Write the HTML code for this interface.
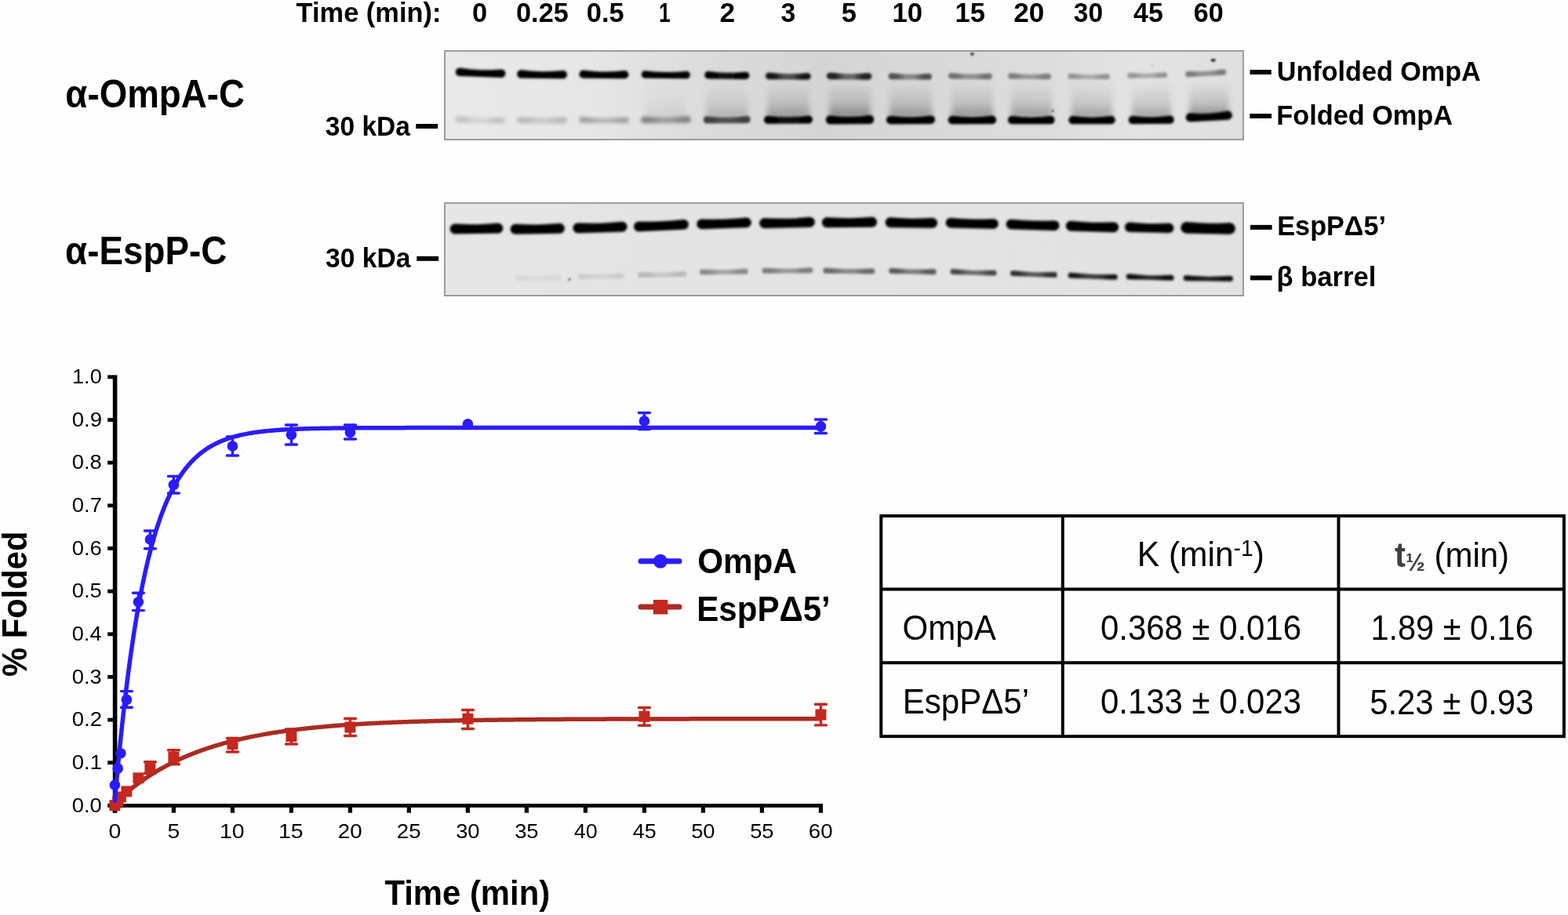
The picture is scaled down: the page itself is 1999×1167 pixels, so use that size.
<!DOCTYPE html>
<html><head><meta charset="utf-8"><title>Folding kinetics</title>
<style>
html,body{margin:0;padding:0;background:#fefefe;}
body{width:1999px;height:1167px;overflow:hidden;}
svg{display:block;}
text{font-family:"Liberation Sans", Arial, Helvetica, sans-serif;}
</style></head><body>
<svg width="1999" height="1167" viewBox="0 0 1999 1167">
<defs>
<filter id="g17" x="-20%" y="-150%" width="140%" height="400%"><feGaussianBlur stdDeviation="1.7"/></filter>
<filter id="g16" x="-20%" y="-150%" width="140%" height="400%"><feGaussianBlur stdDeviation="1.6"/></filter>
<filter id="g22" x="-20%" y="-150%" width="140%" height="400%"><feGaussianBlur stdDeviation="2.2"/></filter>
<filter id="g15" x="-20%" y="-150%" width="140%" height="400%"><feGaussianBlur stdDeviation="1.5"/></filter>
<filter id="g8" x="-200%" y="-200%" width="500%" height="500%"><feGaussianBlur stdDeviation="0.8"/></filter>
<filter id="g40" x="-30%" y="-30%" width="160%" height="160%"><feGaussianBlur stdDeviation="3.5"/></filter>
<linearGradient id="g1bg" x1="567" y1="0" x2="1585" y2="0" gradientUnits="userSpaceOnUse">
<stop offset="0" stop-color="#e8e9e8"/><stop offset="0.19" stop-color="#e5e6e5"/><stop offset="0.33" stop-color="#dadbda"/><stop offset="0.475" stop-color="#d4d5d4"/><stop offset="0.62" stop-color="#d8d9d8"/><stop offset="0.77" stop-color="#dcdddc"/><stop offset="0.87" stop-color="#e2e3e2"/><stop offset="1" stop-color="#dedfde"/>
</linearGradient>
<linearGradient id="g2bg" x1="567" y1="0" x2="1585" y2="0" gradientUnits="userSpaceOnUse"><stop offset="0" stop-color="#e5e6e5"/><stop offset="0.4" stop-color="#e2e3e2"/><stop offset="1" stop-color="#e1e2e1"/></linearGradient>
<linearGradient id="smear" x1="0" y1="0" x2="0" y2="1">
<stop offset="0" stop-color="#000" stop-opacity="0"/>
<stop offset="0.2" stop-color="#000" stop-opacity="0.12"/>
<stop offset="0.6" stop-color="#000" stop-opacity="0.35"/>
<stop offset="1" stop-color="#000" stop-opacity="1"/>
</linearGradient>
</defs>
<rect width="1999" height="1167" fill="#fefefe"/>

<text transform="translate(377.60,27.60) scale(0.9945,1)" font-size="34.6" font-weight="bold" fill="#000" >Time (min):</text>
<text transform="translate(602.06,27.70) scale(0.9939,1)" font-size="34.6" font-weight="bold" fill="#000" >0</text>
<text transform="translate(658.06,27.70) scale(0.9908,1)" font-size="34.6" font-weight="bold" fill="#000" >0.25</text>
<text transform="translate(747.76,27.70) scale(0.9945,1)" font-size="34.6" font-weight="bold" fill="#000" >0.5</text>
<text transform="translate(840.08,27.70) scale(0.7625,1)" font-size="34.6" font-weight="bold" fill="#000" >1</text>
<text transform="translate(917.53,27.70) scale(1.0182,1)" font-size="34.6" font-weight="bold" fill="#000" >2</text>
<text transform="translate(995.47,27.70) scale(0.9739,1)" font-size="34.6" font-weight="bold" fill="#000" >3</text>
<text transform="translate(1072.85,27.70) scale(1.0000,1)" font-size="34.6" font-weight="bold" fill="#000" >5</text>
<text transform="translate(1137.44,27.70) scale(1.0043,1)" font-size="34.6" font-weight="bold" fill="#000" >10</text>
<text transform="translate(1217.45,27.70) scale(1.0014,1)" font-size="34.6" font-weight="bold" fill="#000" >15</text>
<text transform="translate(1292.23,27.70) scale(1.0154,1)" font-size="34.6" font-weight="bold" fill="#000" >20</text>
<text transform="translate(1368.87,27.70) scale(0.9683,1)" font-size="34.6" font-weight="bold" fill="#000" >30</text>
<text transform="translate(1445.01,27.70) scale(0.9838,1)" font-size="34.6" font-weight="bold" fill="#000" >45</text>
<text transform="translate(1521.77,27.70) scale(0.9874,1)" font-size="34.6" font-weight="bold" fill="#000" >60</text>
<text transform="translate(414.87,172.80) scale(0.9685,1)" font-size="34.6" font-weight="bold" fill="#000" >30 kDa</text>
<text transform="translate(415.07,340.80) scale(0.9703,1)" font-size="34.6" font-weight="bold" fill="#000" >30 kDa</text>
<text transform="translate(1627.82,102.90) scale(0.9875,1)" font-size="34.6" font-weight="bold" fill="#000" >Unfolded OmpA</text>
<text transform="translate(1627.27,158.70) scale(0.9915,1)" font-size="34.6" font-weight="bold" fill="#000" >Folded OmpA</text>
<text transform="translate(1628.27,300.00) scale(0.9897,1)" font-size="34.6" font-weight="bold" fill="#000" >EspPΔ5’</text>
<text transform="translate(1627.50,365.00) scale(1.0004,1)" font-size="34.6" font-weight="bold" fill="#000" >β barrel</text>
<text transform="translate(83.34,136.90) scale(0.9309,1)" font-size="49.1" font-weight="bold" fill="#000" >α-OmpA-C</text>
<text transform="translate(83.03,337.10) scale(0.9327,1)" font-size="49.1" font-weight="bold" fill="#000" >α-EspP-C</text>
<text transform="translate(889.14,730.60) scale(0.9512,1)" font-size="44.4" font-weight="bold" fill="#000" >OmpA</text>
<text transform="translate(888.26,792.30) scale(0.9477,1)" font-size="44.4" font-weight="bold" fill="#000" >EspPΔ5’</text>
<text transform="translate(490.43,1154.30) scale(0.9447,1)" font-size="44.3" font-weight="bold" fill="#000" >Time (min)</text>
<text transform="translate(34.3,863.04) rotate(-90) scale(0.9444,1)" font-size="44.2" font-weight="bold" fill="#000">% Folded</text>
<text transform="translate(91.74,1035.60) scale(1.0607,1)" font-size="25.8" font-weight="normal" fill="#000" >0.0</text>
<text transform="translate(91.73,980.94) scale(1.0687,1)" font-size="25.8" font-weight="normal" fill="#000" >0.1</text>
<text transform="translate(91.73,926.28) scale(1.0687,1)" font-size="25.8" font-weight="normal" fill="#000" >0.2</text>
<text transform="translate(91.74,871.62) scale(1.0607,1)" font-size="25.8" font-weight="normal" fill="#000" >0.3</text>
<text transform="translate(91.75,816.96) scale(1.0529,1)" font-size="25.8" font-weight="normal" fill="#000" >0.4</text>
<text transform="translate(91.74,762.30) scale(1.0607,1)" font-size="25.8" font-weight="normal" fill="#000" >0.5</text>
<text transform="translate(91.74,707.64) scale(1.0607,1)" font-size="25.8" font-weight="normal" fill="#000" >0.6</text>
<text transform="translate(91.73,652.98) scale(1.0687,1)" font-size="25.8" font-weight="normal" fill="#000" >0.7</text>
<text transform="translate(91.74,598.32) scale(1.0607,1)" font-size="25.8" font-weight="normal" fill="#000" >0.8</text>
<text transform="translate(91.73,543.66) scale(1.0687,1)" font-size="25.8" font-weight="normal" fill="#000" >0.9</text>
<text transform="translate(91.99,489.00) scale(1.0534,1)" font-size="25.8" font-weight="normal" fill="#000" >1.0</text>
<text transform="translate(138.55,1068.60) scale(1.1020,1)" font-size="25.8" font-weight="normal" fill="#000" >0</text>
<text transform="translate(213.55,1068.60) scale(1.1020,1)" font-size="25.8" font-weight="normal" fill="#000" >5</text>
<text transform="translate(279.99,1068.60) scale(1.1029,1)" font-size="25.8" font-weight="normal" fill="#000" >10</text>
<text transform="translate(354.99,1068.60) scale(1.1029,1)" font-size="25.8" font-weight="normal" fill="#000" >15</text>
<text transform="translate(430.86,1068.60) scale(1.0717,1)" font-size="25.8" font-weight="normal" fill="#000" >20</text>
<text transform="translate(505.86,1068.60) scale(1.0717,1)" font-size="25.8" font-weight="normal" fill="#000" >25</text>
<text transform="translate(581.14,1068.60) scale(1.0617,1)" font-size="25.8" font-weight="normal" fill="#000" >30</text>
<text transform="translate(656.14,1068.60) scale(1.0617,1)" font-size="25.8" font-weight="normal" fill="#000" >35</text>
<text transform="translate(731.68,1068.60) scale(1.0422,1)" font-size="25.8" font-weight="normal" fill="#000" >40</text>
<text transform="translate(806.68,1068.60) scale(1.0422,1)" font-size="25.8" font-weight="normal" fill="#000" >45</text>
<text transform="translate(881.14,1068.60) scale(1.0617,1)" font-size="25.8" font-weight="normal" fill="#000" >50</text>
<text transform="translate(956.14,1068.60) scale(1.0617,1)" font-size="25.8" font-weight="normal" fill="#000" >55</text>
<text transform="translate(1030.86,1068.60) scale(1.0717,1)" font-size="25.8" font-weight="normal" fill="#000" >60</text>
<text transform="translate(1150.59,816.20) scale(0.9559,1)" font-size="44" font-weight="normal" fill="#000" >OmpA</text>
<text transform="translate(1150.65,909.50) scale(0.9569,1)" font-size="44" font-weight="normal" fill="#000" >EspPΔ5’</text>
<text transform="translate(1402.93,816.00) scale(0.9528,1)" font-size="44" font-weight="normal" fill="#000" >0.368 ± 0.016</text>
<text transform="translate(1747.44,816.10) scale(0.9430,1)" font-size="44" font-weight="normal" fill="#000" >1.89 ± 0.16</text>
<text transform="translate(1402.93,910.00) scale(0.9528,1)" font-size="44" font-weight="normal" fill="#000" >0.133 ± 0.023</text>
<text transform="translate(1746.13,910.60) scale(0.9521,1)" font-size="44" font-weight="normal" fill="#000" >5.23 ± 0.93</text>
<text transform="translate(1449.71,722.10) scale(0.9585,1)" font-size="44.4" font-weight="normal" fill="#000" >K (min<tspan font-size="29.4" dy="-13.5">-1</tspan><tspan dy="13.5">)</tspan></text>
<text transform="translate(1778.03,722.50) scale(0.9448,1)" font-size="44.4" font-weight="normal" fill="#000" ><tspan font-weight="bold" fill="#404040">t</tspan><tspan font-size="31.5" font-weight="bold" fill="#404040" dy="5">½</tspan><tspan dy="-5"> (min)</tspan></text>
<rect x="530.3" y="158" width="27.8" height="6" fill="#000"/>
<rect x="531.3" y="326.8" width="27.8" height="6" fill="#000"/>
<rect x="1593.5" y="89" width="27.3" height="6" fill="#000"/>
<rect x="1593.3" y="145" width="27.8" height="6" fill="#000"/>
<rect x="1594" y="286.9" width="27.6" height="6" fill="#000"/>
<rect x="1594" y="351.4" width="27.6" height="6" fill="#000"/>
<rect x="567" y="65" width="1018" height="113" fill="url(#g1bg)"/>
<rect x="823" y="104" width="52" height="46" fill="url(#smear)" fill-opacity="0.08" filter="url(#g40)"/>
<rect x="900" y="104" width="53" height="46" fill="url(#smear)" fill-opacity="0.20" filter="url(#g40)"/>
<rect x="978" y="104" width="54" height="46" fill="url(#smear)" fill-opacity="0.32" filter="url(#g40)"/>
<rect x="1057" y="104" width="53" height="46" fill="url(#smear)" fill-opacity="0.40" filter="url(#g40)"/>
<rect x="1134" y="104" width="54" height="46" fill="url(#smear)" fill-opacity="0.34" filter="url(#g40)"/>
<rect x="1213" y="104" width="53" height="46" fill="url(#smear)" fill-opacity="0.34" filter="url(#g40)"/>
<rect x="1289" y="104" width="52" height="46" fill="url(#smear)" fill-opacity="0.32" filter="url(#g40)"/>
<rect x="1366" y="104" width="52" height="46" fill="url(#smear)" fill-opacity="0.30" filter="url(#g40)"/>
<rect x="1443" y="104" width="50" height="46" fill="url(#smear)" fill-opacity="0.30" filter="url(#g40)"/>
<rect x="1516" y="104" width="51" height="46" fill="url(#smear)" fill-opacity="0.40" filter="url(#g40)"/>
<linearGradient id="bg1" x1="581.8" x2="643.4" y1="0" y2="0" gradientUnits="userSpaceOnUse"><stop offset="0" stop-color="#000000"/><stop offset="0.18" stop-color="#000000"/><stop offset="0.4" stop-color="#000000"/><stop offset="0.6" stop-color="#000000"/><stop offset="0.82" stop-color="#000000"/><stop offset="1" stop-color="#000000"/></linearGradient><path transform="rotate(2.05 612.6 93.4)" d="M585.9,87.5 Q612.6,90.9 639.3,87.5 A5.0,5.0 0 0 1 639.3,97.9 Q612.6,97.9 585.9,97.9 A5.0,5.0 0 0 1 585.9,87.5 Z" fill="url(#bg1)" filter="url(#g17)"/>
<linearGradient id="bg2" x1="660.2" x2="721.9" y1="0" y2="0" gradientUnits="userSpaceOnUse"><stop offset="0" stop-color="#000000"/><stop offset="0.18" stop-color="#000000"/><stop offset="0.4" stop-color="#000000"/><stop offset="0.6" stop-color="#000000"/><stop offset="0.82" stop-color="#000000"/><stop offset="1" stop-color="#000000"/></linearGradient><path transform="rotate(0.74 691.0 95.5)" d="M664.3,89.6 Q691.0,93.0 717.8,89.6 A5.0,5.0 0 0 1 717.8,100.0 Q691.0,100.0 664.3,100.0 A5.0,5.0 0 0 1 664.3,89.6 Z" fill="url(#bg2)" filter="url(#g17)"/>
<linearGradient id="bg3" x1="739.5" x2="800.3" y1="0" y2="0" gradientUnits="userSpaceOnUse"><stop offset="0" stop-color="#000000"/><stop offset="0.18" stop-color="#000000"/><stop offset="0.4" stop-color="#000000"/><stop offset="0.6" stop-color="#000000"/><stop offset="0.82" stop-color="#000000"/><stop offset="1" stop-color="#000000"/></linearGradient><path transform="rotate(0.57 769.9 95.6)" d="M743.5,89.8 Q769.9,93.2 796.3,89.8 A4.9,4.9 0 0 1 796.3,100.0 Q769.9,100.0 743.5,100.0 A4.9,4.9 0 0 1 743.5,89.8 Z" fill="url(#bg3)" filter="url(#g17)"/>
<linearGradient id="bg4" x1="818.7" x2="878.8" y1="0" y2="0" gradientUnits="userSpaceOnUse"><stop offset="0" stop-color="#000000"/><stop offset="0.18" stop-color="#000000"/><stop offset="0.4" stop-color="#000000"/><stop offset="0.6" stop-color="#000000"/><stop offset="0.82" stop-color="#000000"/><stop offset="1" stop-color="#000000"/></linearGradient><path transform="rotate(0.67 848.8 95.9)" d="M822.5,90.4 Q848.8,93.6 875.0,90.4 A4.6,4.6 0 0 1 875.0,100.1 Q848.8,100.1 822.5,100.1 A4.6,4.6 0 0 1 822.5,90.4 Z" fill="url(#bg4)" filter="url(#g17)"/>
<linearGradient id="bg5" x1="899.2" x2="954.4" y1="0" y2="0" gradientUnits="userSpaceOnUse"><stop offset="0" stop-color="#000000"/><stop offset="0.18" stop-color="#000000"/><stop offset="0.4" stop-color="#0b0b0b"/><stop offset="0.6" stop-color="#0b0b0b"/><stop offset="0.82" stop-color="#000000"/><stop offset="1" stop-color="#000000"/></linearGradient><path transform="rotate(0.83 926.8 96.7)" d="M902.9,91.3 Q926.8,94.4 950.7,91.3 A4.5,4.5 0 0 1 950.7,100.7 Q926.8,100.7 902.9,100.7 A4.5,4.5 0 0 1 902.9,91.3 Z" fill="url(#bg5)" filter="url(#g17)"/>
<linearGradient id="bg6" x1="976.8" x2="1032.9" y1="0" y2="0" gradientUnits="userSpaceOnUse"><stop offset="0" stop-color="#121212"/><stop offset="0.18" stop-color="#121212"/><stop offset="0.4" stop-color="#4d4d4d"/><stop offset="0.6" stop-color="#4d4d4d"/><stop offset="0.82" stop-color="#121212"/><stop offset="1" stop-color="#121212"/></linearGradient><path transform="rotate(0.61 1004.9 97.7)" d="M980.3,92.7 Q1004.9,95.6 1029.4,92.7 A4.3,4.3 0 0 1 1029.4,101.5 Q1004.9,101.5 980.3,101.5 A4.3,4.3 0 0 1 980.3,92.7 Z" fill="url(#bg6)" filter="url(#g17)"/>
<linearGradient id="bg7" x1="1054.7" x2="1110.5" y1="0" y2="0" gradientUnits="userSpaceOnUse"><stop offset="0" stop-color="#202020"/><stop offset="0.18" stop-color="#202020"/><stop offset="0.4" stop-color="#636363"/><stop offset="0.6" stop-color="#636363"/><stop offset="0.82" stop-color="#202020"/><stop offset="1" stop-color="#202020"/></linearGradient><path transform="rotate(0.62 1082.6 97.7)" d="M1058.2,92.7 Q1082.6,95.6 1107.0,92.7 A4.3,4.3 0 0 1 1107.0,101.5 Q1082.6,101.5 1058.2,101.5 A4.3,4.3 0 0 1 1058.2,92.7 Z" fill="url(#bg7)" filter="url(#g17)"/>
<linearGradient id="bg8" x1="1133.5" x2="1187.0" y1="0" y2="0" gradientUnits="userSpaceOnUse"><stop offset="0" stop-color="#4d4d4d"/><stop offset="0.18" stop-color="#4d4d4d"/><stop offset="0.4" stop-color="#838383"/><stop offset="0.6" stop-color="#838383"/><stop offset="0.82" stop-color="#4d4d4d"/><stop offset="1" stop-color="#4d4d4d"/></linearGradient><path transform="rotate(0.64 1160.2 98.1)" d="M1136.8,93.4 Q1160.2,96.1 1183.8,93.4 A4.0,4.0 0 0 1 1183.8,101.6 Q1160.2,101.6 1136.8,101.6 A4.0,4.0 0 0 1 1136.8,93.4 Z" fill="url(#bg8)" filter="url(#g17)"/>
<linearGradient id="bg9" x1="1209.8" x2="1264.2" y1="0" y2="0" gradientUnits="userSpaceOnUse"><stop offset="0" stop-color="#717171"/><stop offset="0.18" stop-color="#717171"/><stop offset="0.4" stop-color="#919191"/><stop offset="0.6" stop-color="#919191"/><stop offset="0.82" stop-color="#717171"/><stop offset="1" stop-color="#717171"/></linearGradient><path transform="rotate(0.63 1237.0 97.6)" d="M1212.8,93.3 Q1237.0,95.8 1261.2,93.3 A3.7,3.7 0 0 1 1261.2,100.9 Q1237.0,100.9 1212.8,100.9 A3.7,3.7 0 0 1 1212.8,93.3 Z" fill="url(#bg9)" filter="url(#g17)"/>
<linearGradient id="bg10" x1="1285.9" x2="1339.2" y1="0" y2="0" gradientUnits="userSpaceOnUse"><stop offset="0" stop-color="#7c7c7c"/><stop offset="0.18" stop-color="#7c7c7c"/><stop offset="0.4" stop-color="#9a9a9a"/><stop offset="0.6" stop-color="#9a9a9a"/><stop offset="0.82" stop-color="#7c7c7c"/><stop offset="1" stop-color="#7c7c7c"/></linearGradient><path transform="rotate(0.86 1312.6 97.7)" d="M1288.9,93.4 Q1312.6,95.9 1336.2,93.4 A3.7,3.7 0 0 1 1336.2,101.0 Q1312.6,101.0 1288.9,101.0 A3.7,3.7 0 0 1 1288.9,93.4 Z" fill="url(#bg10)" filter="url(#g17)"/>
<linearGradient id="bg11" x1="1362.0" x2="1414.3" y1="0" y2="0" gradientUnits="userSpaceOnUse"><stop offset="0" stop-color="#939393"/><stop offset="0.18" stop-color="#939393"/><stop offset="0.4" stop-color="#aaaaaa"/><stop offset="0.6" stop-color="#aaaaaa"/><stop offset="0.82" stop-color="#939393"/><stop offset="1" stop-color="#939393"/></linearGradient><path transform="rotate(0.66 1388.2 98.0)" d="M1364.8,94.0 Q1388.2,96.3 1411.5,94.0 A3.4,3.4 0 0 1 1411.5,101.0 Q1388.2,101.0 1364.8,101.0 A3.4,3.4 0 0 1 1364.8,94.0 Z" fill="url(#bg11)" filter="url(#g17)"/>
<linearGradient id="bg12" x1="1438.0" x2="1487.4" y1="0" y2="0" gradientUnits="userSpaceOnUse"><stop offset="0" stop-color="#939393"/><stop offset="0.18" stop-color="#939393"/><stop offset="0.4" stop-color="#aaaaaa"/><stop offset="0.6" stop-color="#aaaaaa"/><stop offset="0.82" stop-color="#939393"/><stop offset="1" stop-color="#939393"/></linearGradient><path transform="rotate(-0.93 1462.7 96.5)" d="M1440.8,92.5 Q1462.7,94.8 1484.7,92.5 A3.4,3.4 0 0 1 1484.7,99.5 Q1462.7,99.5 1440.8,99.5 A3.4,3.4 0 0 1 1440.8,92.5 Z" fill="url(#bg12)" filter="url(#g17)"/>
<linearGradient id="bg13" x1="1512.1" x2="1562.5" y1="0" y2="0" gradientUnits="userSpaceOnUse"><stop offset="0" stop-color="#7c7c7c"/><stop offset="0.18" stop-color="#7c7c7c"/><stop offset="0.4" stop-color="#939393"/><stop offset="0.6" stop-color="#939393"/><stop offset="0.82" stop-color="#7c7c7c"/><stop offset="1" stop-color="#7c7c7c"/></linearGradient><path transform="rotate(-3.18 1537.3 93.7)" d="M1515.1,89.4 Q1537.3,91.9 1559.5,89.4 A3.7,3.7 0 0 1 1559.5,97.0 Q1537.3,97.0 1515.1,97.0 A3.7,3.7 0 0 1 1515.1,89.4 Z" fill="url(#bg13)" filter="url(#g17)"/>
<linearGradient id="bg14" x1="581.0" x2="643.0" y1="0" y2="0" gradientUnits="userSpaceOnUse"><stop offset="0" stop-color="#c2c2c2"/><stop offset="0.18" stop-color="#c2c2c2"/><stop offset="0.4" stop-color="#d2d2d2"/><stop offset="0.6" stop-color="#d2d2d2"/><stop offset="0.82" stop-color="#c2c2c2"/><stop offset="1" stop-color="#c2c2c2"/></linearGradient><path transform="rotate(1.39 612.0 153.3)" d="M584.2,148.6 Q612.0,151.4 639.8,148.6 A4.0,4.0 0 0 1 639.8,156.9 Q612.0,156.9 584.2,156.9 A4.0,4.0 0 0 1 584.2,148.6 Z" fill="url(#bg14)" filter="url(#g22)"/>
<linearGradient id="bg15" x1="660.0" x2="722.0" y1="0" y2="0" gradientUnits="userSpaceOnUse"><stop offset="0" stop-color="#b9b9b9"/><stop offset="0.18" stop-color="#b9b9b9"/><stop offset="0.4" stop-color="#c7c7c7"/><stop offset="0.6" stop-color="#c7c7c7"/><stop offset="0.82" stop-color="#b9b9b9"/><stop offset="1" stop-color="#b9b9b9"/></linearGradient><path transform="rotate(0.46 691.0 153.8)" d="M663.2,149.1 Q691.0,151.9 718.8,149.1 A4.0,4.0 0 0 1 718.8,157.4 Q691.0,157.4 663.2,157.4 A4.0,4.0 0 0 1 663.2,149.1 Z" fill="url(#bg15)" filter="url(#g22)"/>
<linearGradient id="bg16" x1="739.0" x2="801.0" y1="0" y2="0" gradientUnits="userSpaceOnUse"><stop offset="0" stop-color="#a3a3a3"/><stop offset="0.18" stop-color="#a3a3a3"/><stop offset="0.4" stop-color="#b5b5b5"/><stop offset="0.6" stop-color="#b5b5b5"/><stop offset="0.82" stop-color="#a3a3a3"/><stop offset="1" stop-color="#a3a3a3"/></linearGradient><path transform="rotate(0.37 770.0 153.6)" d="M742.2,148.9 Q770.0,151.6 797.8,148.9 A4.0,4.0 0 0 1 797.8,157.1 Q770.0,157.1 742.2,157.1 A4.0,4.0 0 0 1 742.2,148.9 Z" fill="url(#bg16)" filter="url(#g22)"/>
<linearGradient id="bg17" x1="818.0" x2="880.0" y1="0" y2="0" gradientUnits="userSpaceOnUse"><stop offset="0" stop-color="#838383"/><stop offset="0.18" stop-color="#838383"/><stop offset="0.4" stop-color="#9a9a9a"/><stop offset="0.6" stop-color="#9a9a9a"/><stop offset="0.82" stop-color="#838383"/><stop offset="1" stop-color="#838383"/></linearGradient><path transform="rotate(-0.55 849.0 153.3)" d="M821.5,148.3 Q849.0,151.2 876.5,148.3 A4.3,4.3 0 0 1 876.5,157.1 Q849.0,157.1 821.5,157.1 A4.3,4.3 0 0 1 821.5,148.3 Z" fill="url(#bg17)" filter="url(#g22)"/>
<linearGradient id="bg18" x1="897.6" x2="955.8" y1="0" y2="0" gradientUnits="userSpaceOnUse"><stop offset="0" stop-color="#3f3f3f"/><stop offset="0.18" stop-color="#3f3f3f"/><stop offset="0.4" stop-color="#515151"/><stop offset="0.6" stop-color="#515151"/><stop offset="0.82" stop-color="#3f3f3f"/><stop offset="1" stop-color="#3f3f3f"/></linearGradient><path transform="rotate(-0.39 926.7 153.3)" d="M901.4,147.9 Q926.7,151.0 952.0,147.9 A4.6,4.6 0 0 1 952.0,157.3 Q926.7,157.3 901.4,157.3 A4.6,4.6 0 0 1 901.4,147.9 Z" fill="url(#bg18)" filter="url(#g17)"/>
<linearGradient id="bg19" x1="975.0" x2="1035.0" y1="0" y2="0" gradientUnits="userSpaceOnUse"><stop offset="0" stop-color="#000000"/><stop offset="0.18" stop-color="#000000"/><stop offset="0.4" stop-color="#101010"/><stop offset="0.6" stop-color="#101010"/><stop offset="0.82" stop-color="#000000"/><stop offset="1" stop-color="#000000"/></linearGradient><path transform="rotate(-0.38 1005.0 153.3)" d="M979.1,147.4 Q1005.0,150.8 1030.9,147.4 A5.0,5.0 0 0 1 1030.9,157.8 Q1005.0,157.8 979.1,157.8 A5.0,5.0 0 0 1 979.1,147.4 Z" fill="url(#bg19)" filter="url(#g17)"/>
<linearGradient id="bg20" x1="1054.0" x2="1113.0" y1="0" y2="0" gradientUnits="userSpaceOnUse"><stop offset="0" stop-color="#000000"/><stop offset="0.18" stop-color="#000000"/><stop offset="0.4" stop-color="#000000"/><stop offset="0.6" stop-color="#000000"/><stop offset="0.82" stop-color="#000000"/><stop offset="1" stop-color="#000000"/></linearGradient><path transform="rotate(-0.39 1083.5 153.4)" d="M1058.5,146.9 Q1083.5,150.7 1108.5,146.9 A5.5,5.5 0 0 1 1108.5,158.3 Q1083.5,158.3 1058.5,158.3 A5.5,5.5 0 0 1 1058.5,146.9 Z" fill="url(#bg20)" filter="url(#g17)"/>
<linearGradient id="bg21" x1="1131.0" x2="1191.0" y1="0" y2="0" gradientUnits="userSpaceOnUse"><stop offset="0" stop-color="#000000"/><stop offset="0.18" stop-color="#000000"/><stop offset="0.4" stop-color="#000000"/><stop offset="0.6" stop-color="#000000"/><stop offset="0.82" stop-color="#000000"/><stop offset="1" stop-color="#000000"/></linearGradient><path transform="rotate(-0.38 1161.0 153.6)" d="M1135.3,147.4 Q1161.0,151.0 1186.7,147.4 A5.2,5.2 0 0 1 1186.7,158.2 Q1161.0,158.2 1135.3,158.2 A5.2,5.2 0 0 1 1135.3,147.4 Z" fill="url(#bg21)" filter="url(#g17)"/>
<linearGradient id="bg22" x1="1209.8" x2="1269.1" y1="0" y2="0" gradientUnits="userSpaceOnUse"><stop offset="0" stop-color="#000000"/><stop offset="0.18" stop-color="#000000"/><stop offset="0.4" stop-color="#000000"/><stop offset="0.6" stop-color="#000000"/><stop offset="0.82" stop-color="#000000"/><stop offset="1" stop-color="#000000"/></linearGradient><path transform="rotate(-0.19 1239.4 153.6)" d="M1214.0,147.6 Q1239.4,151.1 1264.9,147.6 A5.1,5.1 0 0 1 1264.9,158.2 Q1239.4,158.2 1214.0,158.2 A5.1,5.1 0 0 1 1214.0,147.6 Z" fill="url(#bg22)" filter="url(#g17)"/>
<linearGradient id="bg23" x1="1286.0" x2="1343.6" y1="0" y2="0" gradientUnits="userSpaceOnUse"><stop offset="0" stop-color="#000000"/><stop offset="0.18" stop-color="#000000"/><stop offset="0.4" stop-color="#000000"/><stop offset="0.6" stop-color="#000000"/><stop offset="0.82" stop-color="#000000"/><stop offset="1" stop-color="#000000"/></linearGradient><path transform="rotate(0.00 1314.8 153.7)" d="M1290.2,147.7 Q1314.8,151.2 1339.4,147.7 A5.1,5.1 0 0 1 1339.4,158.3 Q1314.8,158.3 1290.2,158.3 A5.1,5.1 0 0 1 1290.2,147.7 Z" fill="url(#bg23)" filter="url(#g17)"/>
<linearGradient id="bg24" x1="1363.5" x2="1420.7" y1="0" y2="0" gradientUnits="userSpaceOnUse"><stop offset="0" stop-color="#000000"/><stop offset="0.18" stop-color="#000000"/><stop offset="0.4" stop-color="#000000"/><stop offset="0.6" stop-color="#000000"/><stop offset="0.82" stop-color="#000000"/><stop offset="1" stop-color="#000000"/></linearGradient><path transform="rotate(0.00 1392.1 153.7)" d="M1367.6,147.8 Q1392.1,151.2 1416.6,147.8 A5.0,5.0 0 0 1 1416.6,158.2 Q1392.1,158.2 1367.6,158.2 A5.0,5.0 0 0 1 1367.6,147.8 Z" fill="url(#bg24)" filter="url(#g17)"/>
<linearGradient id="bg25" x1="1439.8" x2="1495.7" y1="0" y2="0" gradientUnits="userSpaceOnUse"><stop offset="0" stop-color="#000000"/><stop offset="0.18" stop-color="#000000"/><stop offset="0.4" stop-color="#000000"/><stop offset="0.6" stop-color="#000000"/><stop offset="0.82" stop-color="#000000"/><stop offset="1" stop-color="#000000"/></linearGradient><path transform="rotate(-0.41 1467.8 153.5)" d="M1443.9,147.6 Q1467.8,151.0 1491.6,147.6 A5.0,5.0 0 0 1 1491.6,158.0 Q1467.8,158.0 1443.9,158.0 A5.0,5.0 0 0 1 1443.9,147.6 Z" fill="url(#bg25)" filter="url(#g17)"/>
<linearGradient id="bg26" x1="1513.0" x2="1569.7" y1="0" y2="0" gradientUnits="userSpaceOnUse"><stop offset="0" stop-color="#000000"/><stop offset="0.18" stop-color="#000000"/><stop offset="0.4" stop-color="#000000"/><stop offset="0.6" stop-color="#000000"/><stop offset="0.82" stop-color="#000000"/><stop offset="1" stop-color="#000000"/></linearGradient><path transform="rotate(-3.23 1541.3 149.2)" d="M1517.4,142.8 Q1541.3,146.5 1565.3,142.8 A5.4,5.4 0 0 1 1565.3,154.0 Q1541.3,154.0 1517.4,154.0 A5.4,5.4 0 0 1 1517.4,142.8 Z" fill="url(#bg26)" filter="url(#g17)"/>
<ellipse cx="1239.5" cy="68.9" rx="2.2" ry="1.6" fill="#171717" filter="url(#g8)"/>
<ellipse cx="1546.7" cy="76.8" rx="3" ry="1.8" fill="#171717" filter="url(#g8)"/>
<ellipse cx="1342.2" cy="141.4" rx="1.3" ry="1.5" fill="#444444" filter="url(#g8)"/>
<ellipse cx="1468.7" cy="82.7" rx="1.2" ry="1" fill="#aaaaaa" filter="url(#g8)"/>
<rect x="567" y="65" width="1018" height="113" fill="none" stroke="#9c9c9c" stroke-width="2"/>
<rect x="567" y="259" width="1018" height="118" fill="url(#g2bg)"/>
<ellipse cx="726" cy="356.5" rx="2.2" ry="1.2" fill="#666666" transform="rotate(-25 726 356.5)" filter="url(#g8)"/>
<linearGradient id="bg27" x1="574.2" x2="640.8" y1="0" y2="0" gradientUnits="userSpaceOnUse"><stop offset="0" stop-color="#000000"/><stop offset="0.18" stop-color="#000000"/><stop offset="0.4" stop-color="#000000"/><stop offset="0.6" stop-color="#000000"/><stop offset="0.82" stop-color="#000000"/><stop offset="1" stop-color="#000000"/></linearGradient><path transform="rotate(-0.86 607.5 292.0)" d="M580.0,285.1 Q607.5,287.2 635.0,285.1 A6.3,6.3 0 0 1 635.0,297.9 Q607.5,297.9 580.0,297.9 A6.3,6.3 0 0 1 580.0,285.1 Z" fill="url(#bg27)" filter="url(#g16)"/>
<linearGradient id="bg28" x1="651.2" x2="719.2" y1="0" y2="0" gradientUnits="userSpaceOnUse"><stop offset="0" stop-color="#000000"/><stop offset="0.18" stop-color="#000000"/><stop offset="0.4" stop-color="#000000"/><stop offset="0.6" stop-color="#000000"/><stop offset="0.82" stop-color="#000000"/><stop offset="1" stop-color="#000000"/></linearGradient><path transform="rotate(-0.93 685.2 292.2)" d="M657.0,285.3 Q685.2,287.5 713.5,285.3 A6.3,6.3 0 0 1 713.5,298.2 Q685.2,298.2 657.0,298.2 A6.3,6.3 0 0 1 657.0,285.3 Z" fill="url(#bg28)" filter="url(#g16)"/>
<linearGradient id="bg29" x1="731.0" x2="799.0" y1="0" y2="0" gradientUnits="userSpaceOnUse"><stop offset="0" stop-color="#000000"/><stop offset="0.18" stop-color="#000000"/><stop offset="0.4" stop-color="#000000"/><stop offset="0.6" stop-color="#000000"/><stop offset="0.82" stop-color="#000000"/><stop offset="1" stop-color="#000000"/></linearGradient><path transform="rotate(-1.68 765.0 290.5)" d="M736.8,283.6 Q765.0,285.7 793.2,283.6 A6.3,6.3 0 0 1 793.2,296.4 Q765.0,296.4 736.8,296.4 A6.3,6.3 0 0 1 736.8,283.6 Z" fill="url(#bg29)" filter="url(#g16)"/>
<linearGradient id="bg30" x1="808.6" x2="877.4" y1="0" y2="0" gradientUnits="userSpaceOnUse"><stop offset="0" stop-color="#000000"/><stop offset="0.18" stop-color="#000000"/><stop offset="0.4" stop-color="#000000"/><stop offset="0.6" stop-color="#000000"/><stop offset="0.82" stop-color="#000000"/><stop offset="1" stop-color="#000000"/></linearGradient><path transform="rotate(-2.66 843.0 288.1)" d="M814.4,281.2 Q843.0,283.3 871.6,281.2 A6.3,6.3 0 0 1 871.6,294.0 Q843.0,294.0 814.4,294.0 A6.3,6.3 0 0 1 814.4,281.2 Z" fill="url(#bg30)" filter="url(#g16)"/>
<linearGradient id="bg31" x1="888.9" x2="957.2" y1="0" y2="0" gradientUnits="userSpaceOnUse"><stop offset="0" stop-color="#000000"/><stop offset="0.18" stop-color="#000000"/><stop offset="0.4" stop-color="#000000"/><stop offset="0.6" stop-color="#000000"/><stop offset="0.82" stop-color="#000000"/><stop offset="1" stop-color="#000000"/></linearGradient><path transform="rotate(-2.01 923.0 285.3)" d="M894.6,278.4 Q923.0,280.5 951.5,278.4 A6.3,6.3 0 0 1 951.5,291.2 Q923.0,291.2 894.6,291.2 A6.3,6.3 0 0 1 894.6,278.4 Z" fill="url(#bg31)" filter="url(#g16)"/>
<linearGradient id="bg32" x1="968.7" x2="1038.3" y1="0" y2="0" gradientUnits="userSpaceOnUse"><stop offset="0" stop-color="#000000"/><stop offset="0.18" stop-color="#000000"/><stop offset="0.4" stop-color="#000000"/><stop offset="0.6" stop-color="#000000"/><stop offset="0.82" stop-color="#000000"/><stop offset="1" stop-color="#000000"/></linearGradient><path transform="rotate(-1.32 1003.5 284.5)" d="M974.5,277.6 Q1003.5,279.7 1032.5,277.6 A6.3,6.3 0 0 1 1032.5,290.4 Q1003.5,290.4 974.5,290.4 A6.3,6.3 0 0 1 974.5,277.6 Z" fill="url(#bg32)" filter="url(#g16)"/>
<linearGradient id="bg33" x1="1048.5" x2="1117.4" y1="0" y2="0" gradientUnits="userSpaceOnUse"><stop offset="0" stop-color="#000000"/><stop offset="0.18" stop-color="#000000"/><stop offset="0.4" stop-color="#000000"/><stop offset="0.6" stop-color="#000000"/><stop offset="0.82" stop-color="#000000"/><stop offset="1" stop-color="#000000"/></linearGradient><path transform="rotate(-0.50 1083.0 284.0)" d="M1054.2,277.1 Q1083.0,279.2 1111.7,277.1 A6.3,6.3 0 0 1 1111.7,289.9 Q1083.0,289.9 1054.2,289.9 A6.3,6.3 0 0 1 1054.2,277.1 Z" fill="url(#bg33)" filter="url(#g16)"/>
<linearGradient id="bg34" x1="1129.2" x2="1194.4" y1="0" y2="0" gradientUnits="userSpaceOnUse"><stop offset="0" stop-color="#000000"/><stop offset="0.18" stop-color="#000000"/><stop offset="0.4" stop-color="#000000"/><stop offset="0.6" stop-color="#000000"/><stop offset="0.82" stop-color="#000000"/><stop offset="1" stop-color="#000000"/></linearGradient><path transform="rotate(0.70 1161.8 284.5)" d="M1135.0,277.6 Q1161.8,279.7 1188.7,277.6 A6.3,6.3 0 0 1 1188.7,290.4 Q1161.8,290.4 1135.0,290.4 A6.3,6.3 0 0 1 1135.0,277.6 Z" fill="url(#bg34)" filter="url(#g16)"/>
<linearGradient id="bg35" x1="1206.3" x2="1272.3" y1="0" y2="0" gradientUnits="userSpaceOnUse"><stop offset="0" stop-color="#000000"/><stop offset="0.18" stop-color="#000000"/><stop offset="0.4" stop-color="#000000"/><stop offset="0.6" stop-color="#000000"/><stop offset="0.82" stop-color="#000000"/><stop offset="1" stop-color="#000000"/></linearGradient><path transform="rotate(1.39 1239.3 285.3)" d="M1212.0,278.4 Q1239.3,280.5 1266.5,278.4 A6.3,6.3 0 0 1 1266.5,291.2 Q1239.3,291.2 1212.0,291.2 A6.3,6.3 0 0 1 1212.0,278.4 Z" fill="url(#bg35)" filter="url(#g16)"/>
<linearGradient id="bg36" x1="1283.3" x2="1349.9" y1="0" y2="0" gradientUnits="userSpaceOnUse"><stop offset="0" stop-color="#000000"/><stop offset="0.18" stop-color="#000000"/><stop offset="0.4" stop-color="#000000"/><stop offset="0.6" stop-color="#000000"/><stop offset="0.82" stop-color="#000000"/><stop offset="1" stop-color="#000000"/></linearGradient><path transform="rotate(1.72 1316.6 287.3)" d="M1289.0,280.4 Q1316.6,282.5 1344.2,280.4 A6.3,6.3 0 0 1 1344.2,293.2 Q1316.6,293.2 1289.0,293.2 A6.3,6.3 0 0 1 1289.0,280.4 Z" fill="url(#bg36)" filter="url(#g16)"/>
<linearGradient id="bg37" x1="1359.5" x2="1425.5" y1="0" y2="0" gradientUnits="userSpaceOnUse"><stop offset="0" stop-color="#000000"/><stop offset="0.18" stop-color="#000000"/><stop offset="0.4" stop-color="#000000"/><stop offset="0.6" stop-color="#000000"/><stop offset="0.82" stop-color="#000000"/><stop offset="1" stop-color="#000000"/></linearGradient><path transform="rotate(1.74 1392.5 289.5)" d="M1365.2,282.6 Q1392.5,284.7 1419.8,282.6 A6.3,6.3 0 0 1 1419.8,295.4 Q1392.5,295.4 1365.2,295.4 A6.3,6.3 0 0 1 1365.2,282.6 Z" fill="url(#bg37)" filter="url(#g16)"/>
<linearGradient id="bg38" x1="1434.6" x2="1495.7" y1="0" y2="0" gradientUnits="userSpaceOnUse"><stop offset="0" stop-color="#000000"/><stop offset="0.18" stop-color="#000000"/><stop offset="0.4" stop-color="#000000"/><stop offset="0.6" stop-color="#000000"/><stop offset="0.82" stop-color="#000000"/><stop offset="1" stop-color="#000000"/></linearGradient><path transform="rotate(1.31 1465.2 290.7)" d="M1440.1,284.1 Q1465.2,286.2 1490.2,284.1 A6.0,6.0 0 0 1 1490.2,296.5 Q1465.2,296.5 1440.1,296.5 A6.0,6.0 0 0 1 1440.1,284.1 Z" fill="url(#bg38)" filter="url(#g16)"/>
<linearGradient id="bg39" x1="1506.1" x2="1574.1" y1="0" y2="0" gradientUnits="userSpaceOnUse"><stop offset="0" stop-color="#000000"/><stop offset="0.18" stop-color="#000000"/><stop offset="0.4" stop-color="#000000"/><stop offset="0.6" stop-color="#000000"/><stop offset="0.82" stop-color="#000000"/><stop offset="1" stop-color="#000000"/></linearGradient><path transform="rotate(1.18 1540.1 291.4)" d="M1512.6,283.6 Q1540.1,286.1 1567.6,283.6 A7.2,7.2 0 0 1 1567.6,298.2 Q1540.1,298.2 1512.6,298.2 A7.2,7.2 0 0 1 1512.6,283.6 Z" fill="url(#bg39)" filter="url(#g16)"/>
<linearGradient id="bg40" x1="657.3" x2="715.0" y1="0" y2="0" gradientUnits="userSpaceOnUse"><stop offset="0" stop-color="#d7d7d7"/><stop offset="0.18" stop-color="#d7d7d7"/><stop offset="0.4" stop-color="#dadada"/><stop offset="0.6" stop-color="#dadada"/><stop offset="0.82" stop-color="#d7d7d7"/><stop offset="1" stop-color="#d7d7d7"/></linearGradient><path transform="rotate(-0.40 686.1 354.7)" d="M660.0,350.7 Q686.1,353.0 712.2,350.7 A3.4,3.4 0 0 1 712.2,357.7 Q686.1,357.7 660.0,357.7 A3.4,3.4 0 0 1 660.0,350.7 Z" fill="url(#bg40)" filter="url(#g15)"/>
<linearGradient id="bg41" x1="737.0" x2="794.8" y1="0" y2="0" gradientUnits="userSpaceOnUse"><stop offset="0" stop-color="#cbcbcb"/><stop offset="0.18" stop-color="#cbcbcb"/><stop offset="0.4" stop-color="#d2d2d2"/><stop offset="0.6" stop-color="#d2d2d2"/><stop offset="0.82" stop-color="#cbcbcb"/><stop offset="1" stop-color="#cbcbcb"/></linearGradient><path transform="rotate(-0.79 765.9 352.7)" d="M739.8,348.7 Q765.9,351.0 792.0,348.7 A3.4,3.4 0 0 1 792.0,355.7 Q765.9,355.7 739.8,355.7 A3.4,3.4 0 0 1 739.8,348.7 Z" fill="url(#bg41)" filter="url(#g15)"/>
<linearGradient id="bg42" x1="814.0" x2="874.6" y1="0" y2="0" gradientUnits="userSpaceOnUse"><stop offset="0" stop-color="#b7b7b7"/><stop offset="0.18" stop-color="#b7b7b7"/><stop offset="0.4" stop-color="#c5c5c5"/><stop offset="0.6" stop-color="#c5c5c5"/><stop offset="0.82" stop-color="#b7b7b7"/><stop offset="1" stop-color="#b7b7b7"/></linearGradient><path transform="rotate(-1.13 844.3 350.5)" d="M816.8,346.5 Q844.3,348.8 871.9,346.5 A3.4,3.4 0 0 1 871.9,353.5 Q844.3,353.5 816.8,353.5 A3.4,3.4 0 0 1 816.8,346.5 Z" fill="url(#bg42)" filter="url(#g15)"/>
<linearGradient id="bg43" x1="892.5" x2="953.0" y1="0" y2="0" gradientUnits="userSpaceOnUse"><stop offset="0" stop-color="#888888"/><stop offset="0.18" stop-color="#888888"/><stop offset="0.4" stop-color="#a3a3a3"/><stop offset="0.6" stop-color="#a3a3a3"/><stop offset="0.82" stop-color="#888888"/><stop offset="1" stop-color="#888888"/></linearGradient><path transform="rotate(-0.95 922.8 347.0)" d="M895.2,343.0 Q922.8,345.3 950.2,343.0 A3.4,3.4 0 0 1 950.2,350.0 Q922.8,350.0 895.2,350.0 A3.4,3.4 0 0 1 895.2,343.0 Z" fill="url(#bg43)" filter="url(#g15)"/>
<linearGradient id="bg44" x1="972.3" x2="1035.6" y1="0" y2="0" gradientUnits="userSpaceOnUse"><stop offset="0" stop-color="#7a7a7a"/><stop offset="0.18" stop-color="#7a7a7a"/><stop offset="0.4" stop-color="#959595"/><stop offset="0.6" stop-color="#959595"/><stop offset="0.82" stop-color="#7a7a7a"/><stop offset="1" stop-color="#7a7a7a"/></linearGradient><path transform="rotate(-0.54 1003.9 345.6)" d="M975.0,341.6 Q1003.9,343.9 1032.8,341.6 A3.4,3.4 0 0 1 1032.8,348.6 Q1003.9,348.6 975.0,348.6 A3.4,3.4 0 0 1 975.0,341.6 Z" fill="url(#bg44)" filter="url(#g15)"/>
<linearGradient id="bg45" x1="1050.0" x2="1114.6" y1="0" y2="0" gradientUnits="userSpaceOnUse"><stop offset="0" stop-color="#686868"/><stop offset="0.18" stop-color="#686868"/><stop offset="0.4" stop-color="#888888"/><stop offset="0.6" stop-color="#888888"/><stop offset="0.82" stop-color="#686868"/><stop offset="1" stop-color="#686868"/></linearGradient><path transform="rotate(0.71 1082.3 345.9)" d="M1052.8,341.9 Q1082.3,344.2 1111.8,341.9 A3.4,3.4 0 0 1 1111.8,348.9 Q1082.3,348.9 1052.8,348.9 A3.4,3.4 0 0 1 1052.8,341.9 Z" fill="url(#bg45)" filter="url(#g15)"/>
<linearGradient id="bg46" x1="1133.9" x2="1193.0" y1="0" y2="0" gradientUnits="userSpaceOnUse"><stop offset="0" stop-color="#565656"/><stop offset="0.18" stop-color="#565656"/><stop offset="0.4" stop-color="#7a7a7a"/><stop offset="0.6" stop-color="#7a7a7a"/><stop offset="0.82" stop-color="#565656"/><stop offset="1" stop-color="#565656"/></linearGradient><path transform="rotate(1.36 1163.5 346.4)" d="M1136.7,342.4 Q1163.5,344.7 1190.2,342.4 A3.4,3.4 0 0 1 1190.2,349.4 Q1163.5,349.4 1136.7,349.4 A3.4,3.4 0 0 1 1136.7,342.4 Z" fill="url(#bg46)" filter="url(#g15)"/>
<linearGradient id="bg47" x1="1212.3" x2="1270.0" y1="0" y2="0" gradientUnits="userSpaceOnUse"><stop offset="0" stop-color="#444444"/><stop offset="0.18" stop-color="#444444"/><stop offset="0.4" stop-color="#6c6c6c"/><stop offset="0.6" stop-color="#6c6c6c"/><stop offset="0.82" stop-color="#444444"/><stop offset="1" stop-color="#444444"/></linearGradient><path transform="rotate(1.79 1241.2 347.8)" d="M1215.0,343.8 Q1241.2,346.1 1267.2,343.8 A3.4,3.4 0 0 1 1267.2,350.8 Q1241.2,350.8 1215.0,350.8 A3.4,3.4 0 0 1 1215.0,343.8 Z" fill="url(#bg47)" filter="url(#g15)"/>
<linearGradient id="bg48" x1="1288.8" x2="1347.1" y1="0" y2="0" gradientUnits="userSpaceOnUse"><stop offset="0" stop-color="#2d2d2d"/><stop offset="0.18" stop-color="#2d2d2d"/><stop offset="0.4" stop-color="#565656"/><stop offset="0.6" stop-color="#565656"/><stop offset="0.82" stop-color="#2d2d2d"/><stop offset="1" stop-color="#2d2d2d"/></linearGradient><path transform="rotate(2.16 1317.9 350.0)" d="M1291.5,346.0 Q1317.9,348.3 1344.3,346.0 A3.4,3.4 0 0 1 1344.3,353.0 Q1317.9,353.0 1291.5,353.0 A3.4,3.4 0 0 1 1291.5,346.0 Z" fill="url(#bg48)" filter="url(#g15)"/>
<linearGradient id="bg49" x1="1362.2" x2="1424.1" y1="0" y2="0" gradientUnits="userSpaceOnUse"><stop offset="0" stop-color="#171717"/><stop offset="0.18" stop-color="#171717"/><stop offset="0.4" stop-color="#3b3b3b"/><stop offset="0.6" stop-color="#3b3b3b"/><stop offset="0.82" stop-color="#171717"/><stop offset="1" stop-color="#171717"/></linearGradient><path transform="rotate(2.22 1393.2 352.7)" d="M1365.0,348.7 Q1393.2,351.0 1421.3,348.7 A3.4,3.4 0 0 1 1421.3,355.7 Q1393.2,355.7 1365.0,355.7 A3.4,3.4 0 0 1 1365.0,348.7 Z" fill="url(#bg49)" filter="url(#g15)"/>
<linearGradient id="bg50" x1="1436.5" x2="1495.7" y1="0" y2="0" gradientUnits="userSpaceOnUse"><stop offset="0" stop-color="#0e0e0e"/><stop offset="0.18" stop-color="#0e0e0e"/><stop offset="0.4" stop-color="#292929"/><stop offset="0.6" stop-color="#292929"/><stop offset="0.82" stop-color="#0e0e0e"/><stop offset="1" stop-color="#0e0e0e"/></linearGradient><path transform="rotate(1.55 1466.1 354.1)" d="M1439.2,350.1 Q1466.1,352.4 1493.0,350.1 A3.4,3.4 0 0 1 1493.0,357.1 Q1466.1,357.1 1439.2,357.1 A3.4,3.4 0 0 1 1439.2,350.1 Z" fill="url(#bg50)" filter="url(#g15)"/>
<linearGradient id="bg51" x1="1509.4" x2="1571.3" y1="0" y2="0" gradientUnits="userSpaceOnUse"><stop offset="0" stop-color="#0b0b0b"/><stop offset="0.18" stop-color="#0b0b0b"/><stop offset="0.4" stop-color="#1b1b1b"/><stop offset="0.6" stop-color="#1b1b1b"/><stop offset="0.82" stop-color="#0b0b0b"/><stop offset="1" stop-color="#0b0b0b"/></linearGradient><path transform="rotate(0.74 1540.3 355.5)" d="M1512.2,351.5 Q1540.3,353.8 1568.5,351.5 A3.4,3.4 0 0 1 1568.5,358.5 Q1540.3,358.5 1512.2,358.5 A3.4,3.4 0 0 1 1512.2,351.5 Z" fill="url(#bg51)" filter="url(#g15)"/>
<rect x="567" y="259" width="1018" height="118" fill="none" stroke="#9c9c9c" stroke-width="2"/>
<g fill="#000">
<rect x="143.8" y="478.4" width="5.6" height="558.3"/>
<rect x="143.8" y="1025.1" width="905.2" height="4.8"/>
<rect x="137.2" y="1025.0" width="8" height="4.8"/>
<rect x="137.2" y="970.3" width="8" height="4.8"/>
<rect x="137.2" y="915.7" width="8" height="4.8"/>
<rect x="137.2" y="861.0" width="8" height="4.8"/>
<rect x="137.2" y="806.4" width="8" height="4.8"/>
<rect x="137.2" y="751.7" width="8" height="4.8"/>
<rect x="137.2" y="697.0" width="8" height="4.8"/>
<rect x="137.2" y="642.4" width="8" height="4.8"/>
<rect x="137.2" y="587.7" width="8" height="4.8"/>
<rect x="137.2" y="533.1" width="8" height="4.8"/>
<rect x="137.2" y="478.4" width="8" height="4.8"/>
<rect x="143.8" y="1025" width="5.2" height="11.7"/>
<rect x="218.8" y="1025" width="5.2" height="11.7"/>
<rect x="293.8" y="1025" width="5.2" height="11.7"/>
<rect x="368.8" y="1025" width="5.2" height="11.7"/>
<rect x="443.8" y="1025" width="5.2" height="11.7"/>
<rect x="518.8" y="1025" width="5.2" height="11.7"/>
<rect x="593.8" y="1025" width="5.2" height="11.7"/>
<rect x="668.8" y="1025" width="5.2" height="11.7"/>
<rect x="743.8" y="1025" width="5.2" height="11.7"/>
<rect x="818.8" y="1025" width="5.2" height="11.7"/>
<rect x="893.8" y="1025" width="5.2" height="11.7"/>
<rect x="968.8" y="1025" width="5.2" height="11.7"/>
<rect x="1043.8" y="1025" width="5.2" height="11.7"/>
</g>
<path d="M191.4,971.7 V986.3 M184.4,971.7 H198.4 M184.4,986.3 H198.4 M221.4,956.7 V974.7 M214.4,956.7 H228.4 M214.4,974.7 H228.4 M296.4,941.5 V959.0 M289.4,941.5 H303.4 M289.4,959.0 H303.4 M371.4,930.0 V949.0 M364.4,930.0 H378.4 M364.4,949.0 H378.4 M446.4,916.5 V938.5 M439.4,916.5 H453.4 M439.4,938.5 H453.4 M596.4,905.5 V929.5 M589.4,905.5 H603.4 M589.4,929.5 H603.4 M821.4,902.5 V925.3 M814.4,902.5 H828.4 M814.4,925.3 H828.4 M1046.4,898.2 V924.9 M1039.4,898.2 H1053.4 M1039.4,924.9 H1053.4" stroke="#c4281e" stroke-width="3.4" stroke-linecap="round" fill="none"/>
<path d="M146.40,1024.12 L146.43,1024.09 L146.50,1024.03 L146.59,1023.94 L146.70,1023.84 L146.82,1023.72 L146.97,1023.58 L147.13,1023.43 L147.30,1023.27 L147.49,1023.09 L147.69,1022.90 L147.90,1022.70 L148.12,1022.49 L148.36,1022.27 L148.60,1022.04 L148.86,1021.80 L149.13,1021.55 L149.41,1021.30 L149.69,1021.03 L149.99,1020.75 L150.30,1020.47 L150.61,1020.18 L150.94,1019.88 L151.27,1019.58 L151.62,1019.26 L151.97,1018.94 L152.33,1018.62 L152.70,1018.28 L153.08,1017.95 L153.46,1017.60 L153.86,1017.25 L154.26,1016.89 L154.67,1016.53 L155.09,1016.16 L155.51,1015.78 L155.94,1015.41 L156.38,1015.02 L156.83,1014.63 L157.29,1014.24 L157.75,1013.84 L158.22,1013.44 L158.69,1013.03 L159.18,1012.62 L159.67,1012.20 L160.16,1011.78 L160.67,1011.36 L161.18,1010.93 L161.70,1010.50 L162.22,1010.06 L162.75,1009.63 L163.29,1009.18 L163.83,1008.74 L164.38,1008.29 L164.94,1007.84 L165.50,1007.39 L166.07,1006.93 L166.64,1006.47 L167.23,1006.01 L167.81,1005.55 L168.41,1005.08 L169.01,1004.61 L169.61,1004.14 L170.22,1003.67 L170.84,1003.19 L171.47,1002.72 L172.10,1002.24 L172.73,1001.76 L173.37,1001.27 L174.02,1000.79 L174.67,1000.31 L175.33,999.82 L175.99,999.33 L176.66,998.84 L177.34,998.35 L178.02,997.86 L178.71,997.37 L179.40,996.87 L180.10,996.38 L180.80,995.88 L181.51,995.39 L182.22,994.89 L182.94,994.40 L183.67,993.90 L184.39,993.40 L185.13,992.90 L185.87,992.40 L186.62,991.91 L187.37,991.41 L188.12,990.91 L188.88,990.41 L189.65,989.91 L190.42,989.41 L191.20,988.91 L191.98,988.41 L192.77,987.91 L193.56,987.42 L194.36,986.92 L195.16,986.42 L195.96,985.92 L196.78,985.43 L197.59,984.93 L198.41,984.44 L199.24,983.94 L200.07,983.45 L200.91,982.96 L201.75,982.46 L202.59,981.97 L203.44,981.48 L204.30,980.99 L205.16,980.50 L206.03,980.02 L206.89,979.53 L207.77,979.05 L208.65,978.56 L209.53,978.08 L210.42,977.60 L211.31,977.12 L212.21,976.64 L213.11,976.16 L214.02,975.69 L214.93,975.21 L215.85,974.74 L216.77,974.27 L217.69,973.80 L218.62,973.33 L219.56,972.86 L220.50,972.39 L221.44,971.93 L222.39,971.47 L223.34,971.01 L224.30,970.55 L225.26,970.09 L226.22,969.64 L227.19,969.19 L228.17,968.73 L229.14,968.28 L230.13,967.84 L231.11,967.39 L232.11,966.95 L233.10,966.51 L234.10,966.07 L235.11,965.63 L236.11,965.19 L237.13,964.76 L238.14,964.33 L239.17,963.90 L240.19,963.47 L241.22,963.05 L242.26,962.62 L243.29,962.20 L244.34,961.79 L245.38,961.37 L246.43,960.95 L247.49,960.54 L248.55,960.13 L249.61,959.73 L250.68,959.32 L251.75,958.92 L252.83,958.52 L253.91,958.12 L254.99,957.72 L256.08,957.33 L257.17,956.94 L258.27,956.55 L259.37,956.16 L260.47,955.78 L261.58,955.40 L262.69,955.02 L263.81,954.64 L264.93,954.26 L266.05,953.89 L267.18,953.52 L268.31,953.15 L269.45,952.79 L270.59,952.43 L271.73,952.07 L272.88,951.71 L274.03,951.35 L275.19,951.00 L276.35,950.65 L277.51,950.30 L278.68,949.95 L279.85,949.61 L281.02,949.27 L282.20,948.93 L283.39,948.59 L284.57,948.26 L285.76,947.93 L286.96,947.60 L288.16,947.27 L289.36,946.95 L290.56,946.63 L291.77,946.31 L292.99,945.99 L294.20,945.68 L295.42,945.37 L296.65,945.06 L297.88,944.75 L299.11,944.45 L300.34,944.14 L301.58,943.84 L302.83,943.55 L304.07,943.25 L305.33,942.96 L306.58,942.67 L307.84,942.38 L309.10,942.09 L310.37,941.81 L311.63,941.53 L312.91,941.25 L314.18,940.98 L315.46,940.70 L316.75,940.43 L318.04,940.16 L319.33,939.89 L320.62,939.63 L321.92,939.37 L323.22,939.11 L324.53,938.85 L325.84,938.59 L327.15,938.34 L328.47,938.09 L329.79,937.84 L331.11,937.60 L332.44,937.35 L333.77,937.11 L335.10,936.87 L336.44,936.63 L337.78,936.40 L339.12,936.16 L340.47,935.93 L341.82,935.70 L343.18,935.48 L344.54,935.25 L345.90,935.03 L347.27,934.81 L348.64,934.59 L350.01,934.37 L351.39,934.16 L352.77,933.95 L354.15,933.74 L355.54,933.53 L356.93,933.32 L358.32,933.12 L359.72,932.92 L361.12,932.72 L362.52,932.52 L363.93,932.32 L365.34,932.13 L366.75,931.94 L368.17,931.75 L369.59,931.56 L371.02,931.37 L372.44,931.19 L373.88,931.01 L375.31,930.82 L376.75,930.65 L378.19,930.47 L379.63,930.29 L381.08,930.12 L382.53,929.95 L383.99,929.78 L385.45,929.61 L386.91,929.45 L388.37,929.28 L389.84,929.12 L391.31,928.96 L392.79,928.80 L394.27,928.64 L395.75,928.49 L397.23,928.33 L398.72,928.18 L400.21,928.03 L401.71,927.88 L403.20,927.73 L404.71,927.59 L406.21,927.44 L407.72,927.30 L409.23,927.16 L410.74,927.02 L412.26,926.88 L413.78,926.75 L415.31,926.61 L416.83,926.48 L418.36,926.35 L419.90,926.22 L421.43,926.09 L422.97,925.96 L424.52,925.84 L426.06,925.71 L427.61,925.59 L429.17,925.47 L430.72,925.35 L432.28,925.23 L433.85,925.11 L435.41,925.00 L436.98,924.88 L438.55,924.77 L440.13,924.66 L441.71,924.55 L443.29,924.44 L444.87,924.33 L446.46,924.22 L448.05,924.12 L449.65,924.01 L451.25,923.91 L452.85,923.81 L454.45,923.71 L456.06,923.61 L457.67,923.51 L459.28,923.42 L460.90,923.32 L462.52,923.23 L464.14,923.13 L465.77,923.04 L467.39,922.95 L469.03,922.86 L470.66,922.77 L472.30,922.68 L473.94,922.60 L475.59,922.51 L477.23,922.43 L478.88,922.35 L480.54,922.26 L482.19,922.18 L483.85,922.10 L485.52,922.02 L487.18,921.95 L488.85,921.87 L490.52,921.79 L492.20,921.72 L493.88,921.65 L495.56,921.57 L497.24,921.50 L498.93,921.43 L500.62,921.36 L502.31,921.29 L504.01,921.22 L505.71,921.15 L507.41,921.09 L509.12,921.02 L510.82,920.96 L512.54,920.89 L514.25,920.83 L515.97,920.77 L517.69,920.71 L519.41,920.65 L521.14,920.59 L522.87,920.53 L524.60,920.47 L526.34,920.41 L528.07,920.36 L529.81,920.30 L531.56,920.24 L533.31,920.19 L535.06,920.14 L536.81,920.08 L538.57,920.03 L540.32,919.98 L542.09,919.93 L543.85,919.88 L545.62,919.83 L547.39,919.78 L549.16,919.73 L550.94,919.69 L552.72,919.64 L554.50,919.59 L556.29,919.55 L558.08,919.50 L559.87,919.46 L561.66,919.42 L563.46,919.37 L565.26,919.33 L567.06,919.29 L568.87,919.25 L570.68,919.21 L572.49,919.17 L574.30,919.13 L576.12,919.09 L577.94,919.05 L579.77,919.02 L581.59,918.98 L583.42,918.94 L585.25,918.91 L587.09,918.87 L588.92,918.84 L590.77,918.80 L592.61,918.77 L594.45,918.74 L596.30,918.70 L598.16,918.67 L600.01,918.64 L601.87,918.61 L603.73,918.58 L605.59,918.54 L607.46,918.51 L609.33,918.49 L611.20,918.46 L613.07,918.43 L614.95,918.40 L616.83,918.37 L618.71,918.34 L620.60,918.32 L622.49,918.29 L624.38,918.26 L626.28,918.24 L628.17,918.21 L630.07,918.19 L631.98,918.16 L633.88,918.14 L635.79,918.11 L637.70,918.09 L639.61,918.07 L641.53,918.05 L643.45,918.02 L645.37,918.00 L647.30,917.98 L649.23,917.96 L651.16,917.94 L653.09,917.92 L655.03,917.90 L656.97,917.87 L658.91,917.86 L660.85,917.84 L662.80,917.82 L664.75,917.80 L666.70,917.78 L668.66,917.76 L670.62,917.74 L672.58,917.72 L674.54,917.71 L676.51,917.69 L678.48,917.67 L680.45,917.66 L682.42,917.64 L684.40,917.62 L686.38,917.61 L688.36,917.59 L690.35,917.58 L692.34,917.56 L694.33,917.55 L696.32,917.53 L698.32,917.52 L700.32,917.50 L702.32,917.49 L704.33,917.48 L706.33,917.46 L708.34,917.45 L710.36,917.44 L712.37,917.42 L714.39,917.41 L716.41,917.40 L718.43,917.39 L720.46,917.37 L722.49,917.36 L724.52,917.35 L726.56,917.34 L728.59,917.33 L730.63,917.32 L732.67,917.31 L734.72,917.30 L736.77,917.29 L738.82,917.28 L740.87,917.27 L742.93,917.26 L744.98,917.25 L747.05,917.24 L749.11,917.23 L751.18,917.22 L753.24,917.21 L755.32,917.20 L757.39,917.19 L759.47,917.18 L761.55,917.17 L763.63,917.16 L765.71,917.16 L767.80,917.15 L769.89,917.14 L771.98,917.13 L774.08,917.12 L776.18,917.12 L778.28,917.11 L780.38,917.10 L782.49,917.10 L784.59,917.09 L786.71,917.08 L788.82,917.07 L790.94,917.07 L793.05,917.06 L795.18,917.05 L797.30,917.05 L799.43,917.04 L801.56,917.04 L803.69,917.03 L805.82,917.02 L807.96,917.02 L810.10,917.01 L812.24,917.01 L814.39,917.00 L816.53,917.00 L818.68,916.99 L820.84,916.99 L822.99,916.98 L825.15,916.97 L827.31,916.97 L829.47,916.97 L831.64,916.96 L833.81,916.96 L835.98,916.95 L838.15,916.95 L840.33,916.94 L842.50,916.94 L844.68,916.93 L846.87,916.93 L849.05,916.92 L851.24,916.92 L853.43,916.92 L855.63,916.91 L857.82,916.91 L860.02,916.91 L862.22,916.90 L864.43,916.90 L866.63,916.89 L868.84,916.89 L871.05,916.89 L873.27,916.88 L875.48,916.88 L877.70,916.88 L879.92,916.87 L882.15,916.87 L884.38,916.87 L886.60,916.87 L888.84,916.86 L891.07,916.86 L893.31,916.86 L895.55,916.85 L897.79,916.85 L900.03,916.85 L902.28,916.85 L904.53,916.84 L906.78,916.84 L909.03,916.84 L911.29,916.84 L913.55,916.83 L915.81,916.83 L918.08,916.83 L920.34,916.83 L922.61,916.82 L924.88,916.82 L927.16,916.82 L929.43,916.82 L931.71,916.82 L934.00,916.81 L936.28,916.81 L938.57,916.81 L940.85,916.81 L943.15,916.81 L945.44,916.80 L947.74,916.80 L950.04,916.80 L952.34,916.80 L954.64,916.80 L956.95,916.79 L959.26,916.79 L961.57,916.79 L963.88,916.79 L966.20,916.79 L968.52,916.79 L970.84,916.79 L973.16,916.78 L975.49,916.78 L977.82,916.78 L980.15,916.78 L982.48,916.78 L984.82,916.78 L987.15,916.78 L989.49,916.77 L991.84,916.77 L994.18,916.77 L996.53,916.77 L998.88,916.77 L1001.24,916.77 L1003.59,916.77 L1005.95,916.77 L1008.31,916.77 L1010.67,916.76 L1013.04,916.76 L1015.40,916.76 L1017.77,916.76 L1020.15,916.76 L1022.52,916.76 L1024.90,916.76 L1027.28,916.76 L1029.66,916.76 L1032.04,916.76 L1034.43,916.75 L1036.82,916.75 L1039.21,916.75 L1041.60,916.75 L1044.00,916.75 L1046.40,916.75" stroke="#ab2b22" stroke-width="5.5" fill="none" stroke-linejoin="round"/>
<rect x="139.4" y="1020.2" width="14" height="14" fill="#c4281e"/>
<rect x="143.2" y="1015.0" width="14" height="14" fill="#c4281e"/>
<rect x="146.9" y="1009.5" width="14" height="14" fill="#c4281e"/>
<rect x="154.4" y="1002.4" width="14" height="14" fill="#c4281e"/>
<rect x="169.4" y="985.3" width="14" height="14" fill="#c4281e"/>
<rect x="184.4" y="971.6" width="14" height="14" fill="#c4281e"/>
<rect x="214.4" y="958.7" width="14" height="14" fill="#c4281e"/>
<rect x="289.4" y="942.0" width="14" height="14" fill="#c4281e"/>
<rect x="364.4" y="932.0" width="14" height="14" fill="#c4281e"/>
<rect x="439.4" y="920.5" width="14" height="14" fill="#c4281e"/>
<rect x="589.4" y="909.8" width="14" height="14" fill="#c4281e"/>
<rect x="814.4" y="906.8" width="14" height="14" fill="#c4281e"/>
<rect x="1039.4" y="904.5" width="14" height="14" fill="#c4281e"/>
<path d="M161.4,881.6 V902.3 M154.4,881.6 H168.4 M154.4,902.3 H168.4 M176.4,756.2 V778.6 M169.4,756.2 H183.4 M169.4,778.6 H183.4 M191.4,677.0 V699.8 M184.4,677.0 H198.4 M184.4,699.8 H198.4 M221.4,607.4 V629.0 M214.4,607.4 H228.4 M214.4,629.0 H228.4 M296.4,557.0 V581.0 M289.4,557.0 H303.4 M289.4,581.0 H303.4 M371.4,542.0 V567.0 M364.4,542.0 H378.4 M364.4,567.0 H378.4 M446.4,542.0 V560.0 M439.4,542.0 H453.4 M439.4,560.0 H453.4 M821.4,526.5 V547.5 M814.4,526.5 H828.4 M814.4,547.5 H828.4 M1046.4,535.0 V552.5 M1039.4,535.0 H1053.4 M1039.4,552.5 H1053.4" stroke="#2a1cff" stroke-width="3.4" stroke-linecap="round" fill="none"/>
<path d="M146.40,1021.66 L146.43,1021.28 L146.50,1020.52 L146.59,1019.48 L146.70,1018.21 L146.82,1016.73 L146.97,1015.07 L147.13,1013.25 L147.30,1011.27 L147.49,1009.14 L147.69,1006.88 L147.90,1004.48 L148.12,1001.97 L148.36,999.35 L148.60,996.61 L148.86,993.78 L149.13,990.84 L149.41,987.82 L149.69,984.71 L149.99,981.51 L150.30,978.24 L150.61,974.89 L150.94,971.48 L151.27,967.99 L151.62,964.45 L151.97,960.85 L152.33,957.19 L152.70,953.47 L153.08,949.71 L153.46,945.91 L153.86,942.06 L154.26,938.17 L154.67,934.25 L155.09,930.29 L155.51,926.30 L155.94,922.28 L156.38,918.24 L156.83,914.17 L157.29,910.08 L157.75,905.97 L158.22,901.85 L158.69,897.71 L159.18,893.56 L159.67,889.40 L160.16,885.23 L160.67,881.06 L161.18,876.88 L161.70,872.70 L162.22,868.52 L162.75,864.35 L163.29,860.17 L163.83,856.01 L164.38,851.85 L164.94,847.69 L165.50,843.55 L166.07,839.42 L166.64,835.30 L167.23,831.20 L167.81,827.11 L168.41,823.04 L169.01,818.98 L169.61,814.95 L170.22,810.94 L170.84,806.95 L171.47,802.98 L172.10,799.03 L172.73,795.11 L173.37,791.22 L174.02,787.35 L174.67,783.51 L175.33,779.69 L175.99,775.91 L176.66,772.16 L177.34,768.43 L178.02,764.74 L178.71,761.08 L179.40,757.45 L180.10,753.86 L180.80,750.30 L181.51,746.77 L182.22,743.28 L182.94,739.82 L183.67,736.40 L184.39,733.01 L185.13,729.66 L185.87,726.35 L186.62,723.07 L187.37,719.83 L188.12,716.63 L188.88,713.47 L189.65,710.34 L190.42,707.25 L191.20,704.20 L191.98,701.19 L192.77,698.21 L193.56,695.28 L194.36,692.38 L195.16,689.52 L195.96,686.70 L196.78,683.91 L197.59,681.17 L198.41,678.46 L199.24,675.80 L200.07,673.17 L200.91,670.58 L201.75,668.03 L202.59,665.51 L203.44,663.03 L204.30,660.59 L205.16,658.19 L206.03,655.83 L206.89,653.50 L207.77,651.21 L208.65,648.96 L209.53,646.74 L210.42,644.56 L211.31,642.41 L212.21,640.30 L213.11,638.23 L214.02,636.19 L214.93,634.19 L215.85,632.22 L216.77,630.28 L217.69,628.38 L218.62,626.51 L219.56,624.68 L220.50,622.88 L221.44,621.11 L222.39,619.38 L223.34,617.67 L224.30,616.00 L225.26,614.36 L226.22,612.75 L227.19,611.17 L228.17,609.62 L229.14,608.10 L230.13,606.61 L231.11,605.15 L232.11,603.72 L233.10,602.32 L234.10,600.94 L235.11,599.59 L236.11,598.27 L237.13,596.98 L238.14,595.71 L239.17,594.47 L240.19,593.26 L241.22,592.07 L242.26,590.90 L243.29,589.76 L244.34,588.64 L245.38,587.55 L246.43,586.48 L247.49,585.44 L248.55,584.42 L249.61,583.42 L250.68,582.44 L251.75,581.48 L252.83,580.55 L253.91,579.63 L254.99,578.74 L256.08,577.86 L257.17,577.01 L258.27,576.18 L259.37,575.36 L260.47,574.57 L261.58,573.79 L262.69,573.03 L263.81,572.29 L264.93,571.56 L266.05,570.86 L267.18,570.17 L268.31,569.49 L269.45,568.83 L270.59,568.19 L271.73,567.57 L272.88,566.96 L274.03,566.36 L275.19,565.78 L276.35,565.21 L277.51,564.66 L278.68,564.12 L279.85,563.60 L281.02,563.08 L282.20,562.58 L283.39,562.10 L284.57,561.62 L285.76,561.16 L286.96,560.71 L288.16,560.27 L289.36,559.85 L290.56,559.43 L291.77,559.02 L292.99,558.63 L294.20,558.25 L295.42,557.87 L296.65,557.51 L297.88,557.15 L299.11,556.81 L300.34,556.47 L301.58,556.15 L302.83,555.83 L304.07,555.52 L305.33,555.22 L306.58,554.93 L307.84,554.64 L309.10,554.37 L310.37,554.10 L311.63,553.84 L312.91,553.58 L314.18,553.33 L315.46,553.09 L316.75,552.86 L318.04,552.63 L319.33,552.41 L320.62,552.20 L321.92,551.99 L323.22,551.79 L324.53,551.59 L325.84,551.40 L327.15,551.22 L328.47,551.04 L329.79,550.87 L331.11,550.70 L332.44,550.53 L333.77,550.37 L335.10,550.22 L336.44,550.07 L337.78,549.92 L339.12,549.78 L340.47,549.64 L341.82,549.51 L343.18,549.38 L344.54,549.26 L345.90,549.14 L347.27,549.02 L348.64,548.91 L350.01,548.80 L351.39,548.69 L352.77,548.58 L354.15,548.48 L355.54,548.39 L356.93,548.29 L358.32,548.20 L359.72,548.11 L361.12,548.03 L362.52,547.94 L363.93,547.86 L365.34,547.78 L366.75,547.71 L368.17,547.64 L369.59,547.57 L371.02,547.50 L372.44,547.43 L373.88,547.37 L375.31,547.30 L376.75,547.24 L378.19,547.19 L379.63,547.13 L381.08,547.08 L382.53,547.02 L383.99,546.97 L385.45,546.92 L386.91,546.88 L388.37,546.83 L389.84,546.79 L391.31,546.74 L392.79,546.70 L394.27,546.66 L395.75,546.62 L397.23,546.58 L398.72,546.55 L400.21,546.51 L401.71,546.48 L403.20,546.45 L404.71,546.41 L406.21,546.38 L407.72,546.35 L409.23,546.33 L410.74,546.30 L412.26,546.27 L413.78,546.25 L415.31,546.22 L416.83,546.20 L418.36,546.17 L419.90,546.15 L421.43,546.13 L422.97,546.11 L424.52,546.09 L426.06,546.07 L427.61,546.05 L429.17,546.03 L430.72,546.02 L432.28,546.00 L433.85,545.98 L435.41,545.97 L436.98,545.95 L438.55,545.94 L440.13,545.93 L441.71,545.91 L443.29,545.90 L444.87,545.89 L446.46,545.87 L448.05,545.86 L449.65,545.85 L451.25,545.84 L452.85,545.83 L454.45,545.82 L456.06,545.81 L457.67,545.80 L459.28,545.79 L460.90,545.78 L462.52,545.78 L464.14,545.77 L465.77,545.76 L467.39,545.75 L469.03,545.75 L470.66,545.74 L472.30,545.73 L473.94,545.73 L475.59,545.72 L477.23,545.71 L478.88,545.71 L480.54,545.70 L482.19,545.70 L483.85,545.69 L485.52,545.69 L487.18,545.68 L488.85,545.68 L490.52,545.67 L492.20,545.67 L493.88,545.67 L495.56,545.66 L497.24,545.66 L498.93,545.66 L500.62,545.65 L502.31,545.65 L504.01,545.65 L505.71,545.64 L507.41,545.64 L509.12,545.64 L510.82,545.63 L512.54,545.63 L514.25,545.63 L515.97,545.63 L517.69,545.62 L519.41,545.62 L521.14,545.62 L522.87,545.62 L524.60,545.62 L526.34,545.61 L528.07,545.61 L529.81,545.61 L531.56,545.61 L533.31,545.61 L535.06,545.61 L536.81,545.61 L538.57,545.60 L540.32,545.60 L542.09,545.60 L543.85,545.60 L545.62,545.60 L547.39,545.60 L549.16,545.60 L550.94,545.60 L552.72,545.59 L554.50,545.59 L556.29,545.59 L558.08,545.59 L559.87,545.59 L561.66,545.59 L563.46,545.59 L565.26,545.59 L567.06,545.59 L568.87,545.59 L570.68,545.59 L572.49,545.59 L574.30,545.59 L576.12,545.58 L577.94,545.58 L579.77,545.58 L581.59,545.58 L583.42,545.58 L585.25,545.58 L587.09,545.58 L588.92,545.58 L590.77,545.58 L592.61,545.58 L594.45,545.58 L596.30,545.58 L598.16,545.58 L600.01,545.58 L601.87,545.58 L603.73,545.58 L605.59,545.58 L607.46,545.58 L609.33,545.58 L611.20,545.58 L613.07,545.58 L614.95,545.58 L616.83,545.58 L618.71,545.58 L620.60,545.58 L622.49,545.58 L624.38,545.58 L626.28,545.58 L628.17,545.58 L630.07,545.58 L631.98,545.58 L633.88,545.58 L635.79,545.58 L637.70,545.57 L639.61,545.57 L641.53,545.57 L643.45,545.57 L645.37,545.57 L647.30,545.57 L649.23,545.57 L651.16,545.57 L653.09,545.57 L655.03,545.57 L656.97,545.57 L658.91,545.57 L660.85,545.57 L662.80,545.57 L664.75,545.57 L666.70,545.57 L668.66,545.57 L670.62,545.57 L672.58,545.57 L674.54,545.57 L676.51,545.57 L678.48,545.57 L680.45,545.57 L682.42,545.57 L684.40,545.57 L686.38,545.57 L688.36,545.57 L690.35,545.57 L692.34,545.57 L694.33,545.57 L696.32,545.57 L698.32,545.57 L700.32,545.57 L702.32,545.57 L704.33,545.57 L706.33,545.57 L708.34,545.57 L710.36,545.57 L712.37,545.57 L714.39,545.57 L716.41,545.57 L718.43,545.57 L720.46,545.57 L722.49,545.57 L724.52,545.57 L726.56,545.57 L728.59,545.57 L730.63,545.57 L732.67,545.57 L734.72,545.57 L736.77,545.57 L738.82,545.57 L740.87,545.57 L742.93,545.57 L744.98,545.57 L747.05,545.57 L749.11,545.57 L751.18,545.57 L753.24,545.57 L755.32,545.57 L757.39,545.57 L759.47,545.57 L761.55,545.57 L763.63,545.57 L765.71,545.57 L767.80,545.57 L769.89,545.57 L771.98,545.57 L774.08,545.57 L776.18,545.57 L778.28,545.57 L780.38,545.57 L782.49,545.57 L784.59,545.57 L786.71,545.57 L788.82,545.57 L790.94,545.57 L793.05,545.57 L795.18,545.57 L797.30,545.57 L799.43,545.57 L801.56,545.57 L803.69,545.57 L805.82,545.57 L807.96,545.57 L810.10,545.57 L812.24,545.57 L814.39,545.57 L816.53,545.57 L818.68,545.57 L820.84,545.57 L822.99,545.57 L825.15,545.57 L827.31,545.57 L829.47,545.57 L831.64,545.57 L833.81,545.57 L835.98,545.57 L838.15,545.57 L840.33,545.57 L842.50,545.57 L844.68,545.57 L846.87,545.57 L849.05,545.57 L851.24,545.57 L853.43,545.57 L855.63,545.57 L857.82,545.57 L860.02,545.57 L862.22,545.57 L864.43,545.57 L866.63,545.57 L868.84,545.57 L871.05,545.57 L873.27,545.57 L875.48,545.57 L877.70,545.57 L879.92,545.57 L882.15,545.57 L884.38,545.57 L886.60,545.57 L888.84,545.57 L891.07,545.57 L893.31,545.57 L895.55,545.57 L897.79,545.57 L900.03,545.57 L902.28,545.57 L904.53,545.57 L906.78,545.57 L909.03,545.57 L911.29,545.57 L913.55,545.57 L915.81,545.57 L918.08,545.57 L920.34,545.57 L922.61,545.57 L924.88,545.57 L927.16,545.57 L929.43,545.57 L931.71,545.57 L934.00,545.57 L936.28,545.57 L938.57,545.57 L940.85,545.57 L943.15,545.57 L945.44,545.57 L947.74,545.57 L950.04,545.57 L952.34,545.57 L954.64,545.57 L956.95,545.57 L959.26,545.57 L961.57,545.57 L963.88,545.57 L966.20,545.57 L968.52,545.57 L970.84,545.57 L973.16,545.57 L975.49,545.57 L977.82,545.57 L980.15,545.57 L982.48,545.57 L984.82,545.57 L987.15,545.57 L989.49,545.57 L991.84,545.57 L994.18,545.57 L996.53,545.57 L998.88,545.57 L1001.24,545.57 L1003.59,545.57 L1005.95,545.57 L1008.31,545.57 L1010.67,545.57 L1013.04,545.57 L1015.40,545.57 L1017.77,545.57 L1020.15,545.57 L1022.52,545.57 L1024.90,545.57 L1027.28,545.57 L1029.66,545.57 L1032.04,545.57 L1034.43,545.57 L1036.82,545.57 L1039.21,545.57 L1041.60,545.57 L1044.00,545.57 L1046.40,545.57" stroke="#2a1cff" stroke-width="5.5" fill="none" stroke-linecap="round" stroke-linejoin="round"/>
<circle cx="146.4" cy="1001.3" r="6.8" fill="#2a1cff"/>
<circle cx="150.2" cy="980.1" r="6.8" fill="#2a1cff"/>
<circle cx="153.9" cy="960.8" r="6.8" fill="#2a1cff"/>
<circle cx="161.4" cy="892.4" r="6.8" fill="#2a1cff"/>
<circle cx="176.4" cy="767.8" r="6.8" fill="#2a1cff"/>
<circle cx="191.4" cy="688.0" r="6.8" fill="#2a1cff"/>
<circle cx="221.4" cy="618.4" r="6.8" fill="#2a1cff"/>
<circle cx="296.4" cy="569.0" r="6.8" fill="#2a1cff"/>
<circle cx="371.4" cy="554.5" r="6.8" fill="#2a1cff"/>
<circle cx="446.4" cy="551.5" r="6.8" fill="#2a1cff"/>
<circle cx="596.4" cy="540.8" r="6.8" fill="#2a1cff"/>
<circle cx="821.4" cy="537.0" r="6.8" fill="#2a1cff"/>
<circle cx="1046.4" cy="543.9" r="6.8" fill="#2a1cff"/>
<line x1="817" y1="715.8" x2="866" y2="715.8" stroke="#2a1cff" stroke-width="7" stroke-linecap="round"/>
<circle cx="841.9" cy="715.8" r="9" fill="#2a1cff"/>
<line x1="817" y1="774.1" x2="866" y2="774.1" stroke="#ab2b22" stroke-width="7" stroke-linecap="round"/>
<rect x="832.8" y="765" width="18.5" height="18.5" fill="#c4281e"/>
<g stroke="#000" stroke-width="4" fill="none">
<rect x="1123.3" y="658" width="870.6" height="281.2"/>
<line x1="1354.8" y1="658" x2="1354.8" y2="939.2"/>
<line x1="1706.5" y1="658" x2="1706.5" y2="939.2"/>
<line x1="1123.3" y1="751.6" x2="1993.9" y2="751.6"/>
<line x1="1123.3" y1="845.3" x2="1993.9" y2="845.3"/>
</g>
</svg></body></html>
